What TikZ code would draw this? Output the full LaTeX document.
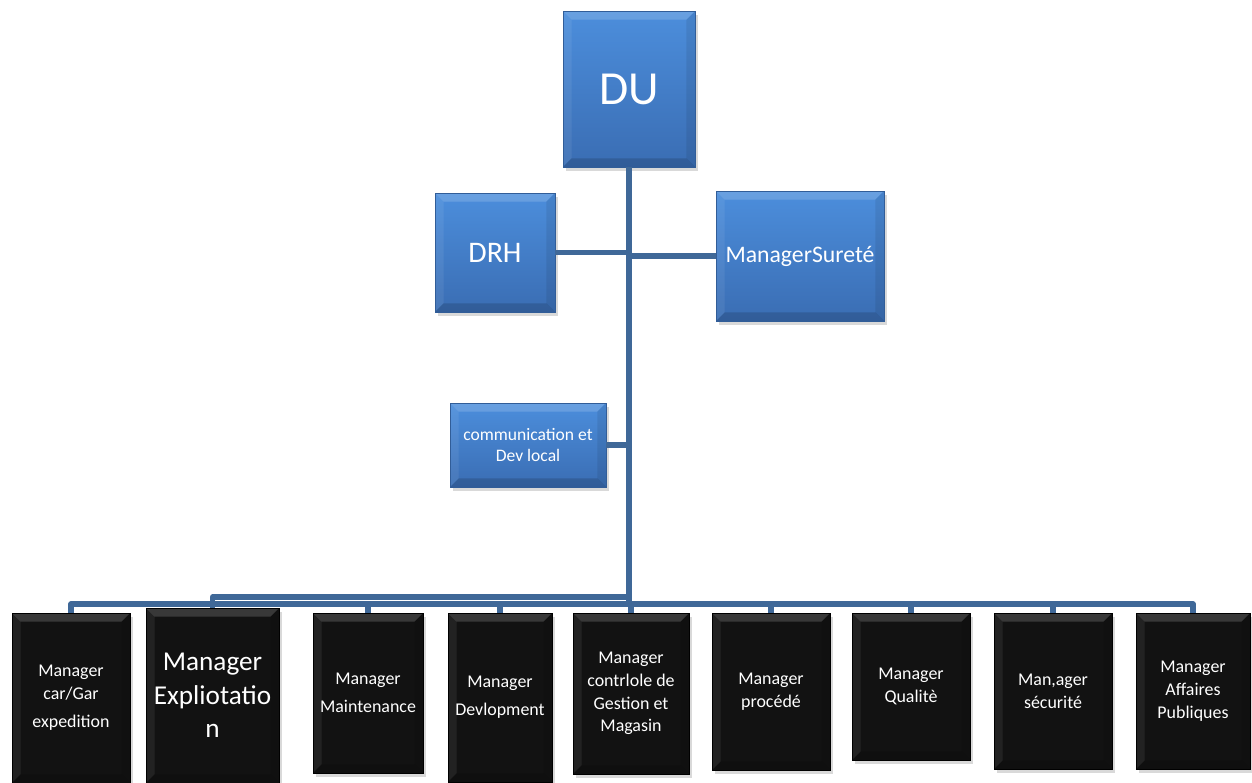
\documentclass[tikz,border=0pt]{standalone}
\usepackage{fontspec}
\setmainfont{Carlito}
\usetikzlibrary{shadows}
\definecolor{btop}{HTML}{4C8EDC}
\definecolor{bbot}{HTML}{3A6DB3}
\definecolor{conn}{HTML}{3F6898}
\definecolor{kbox}{HTML}{121212}
\tikzset{
  bevel/.style={path picture={
    \path (path picture bounding box.north west) coordinate (pNW)
          (path picture bounding box.north east) coordinate (pNE)
          (path picture bounding box.south west) coordinate (pSW)
          (path picture bounding box.south east) coordinate (pSE);
    \fill[white,opacity=#1] (pNW) -- (pNE) -- ([shift={(-0.17cm,-0.17cm)}]pNE) -- ([shift={(0.17cm,-0.17cm)}]pNW) -- cycle;
    \fill[white,opacity=#1*0.45] (pNW) -- (pSW) -- ([shift={(0.17cm,0.17cm)}]pSW) -- ([shift={(0.17cm,-0.17cm)}]pNW) -- cycle;
    \fill[black,opacity=0.08] (pNE) -- (pSE) -- ([shift={(-0.17cm,0.17cm)}]pSE) -- ([shift={(-0.17cm,-0.17cm)}]pNE) -- cycle;
    \fill[black,opacity=0.15] (pSW) -- (pSE) -- ([shift={(-0.17cm,0.17cm)}]pSE) -- ([shift={(0.17cm,0.17cm)}]pSW) -- cycle;
  }},
  bluebox/.style={rectangle, top color=btop, bottom color=bbot, draw=bbot!85!black, line width=0.3pt,
    text=white, align=center, inner sep=1pt, bevel=0.16,
    drop shadow={shadow xshift=1.5pt, shadow yshift=-2.5pt, opacity=0.3}},
  blackbox/.style={rectangle, fill=kbox, draw=black, line width=0.3pt,
    text=white, align=center, inner sep=1pt, bevel=0.16, font=\fontsize{10.2pt}{13pt}\selectfont,
    drop shadow={shadow xshift=1.5pt, shadow yshift=-2.5pt, opacity=0.3}},
  link/.style={draw=conn, line width=2.9pt}
}
\begin{document}
\begin{tikzpicture}[x=0.02cm, y=-0.02cm]
\useasboundingbox (0,0) rectangle (1252,783);
% top boxes
\node[bluebox, minimum width=2.64cm, minimum height=3.12cm, font=\fontsize{27pt}{30pt}\selectfont] (DU) at (629,89) {DU};
\node[bluebox, minimum width=2.40cm, minimum height=2.38cm, font=\fontsize{17pt}{20pt}\selectfont] (DRH) at (495,252.5) {DRH};
\node[bluebox, minimum width=3.36cm, minimum height=2.60cm, font=\fontsize{13.5pt}{16pt}\selectfont] (SUR) at (800,256) {ManagerSureté};
\node[bluebox, minimum width=3.12cm, minimum height=1.68cm, font=\fontsize{10pt}{12pt}\selectfont] (COM) at (528,445) {communication et\\Dev local};
% bottom boxes
\node[blackbox, minimum width=2.36cm, minimum height=3.40cm] (B1) at (71,698) {Manager\\car/Gar\\[3pt]expedition};
\node[blackbox, minimum width=2.66cm, minimum height=3.50cm, font=\fontsize{15.5pt}{19pt}\selectfont] (B2) at (212.5,695.5) {Manager\\Expliotatio\\n};
\node[blackbox, minimum width=2.20cm, minimum height=3.20cm] (B3) at (368,693) {Manager\\[3pt]Maintenance};
\node[blackbox, minimum width=2.08cm, minimum height=3.38cm] (B4) at (500,697.5) {Manager\\[3pt]Devlopment};
\node[blackbox, minimum width=2.32cm, minimum height=3.22cm] (B5) at (631,693.5) {Manager\\contrlole de\\Gestion et\\Magasin};
\node[blackbox, minimum width=2.36cm, minimum height=3.14cm] (B6) at (771,691.5) {Manager\\procédé};
\node[blackbox, minimum width=2.36cm, minimum height=2.94cm] (B7) at (911,686.5) {Manager\\Qualitè};
\node[blackbox, minimum width=2.36cm, minimum height=3.12cm] (B8) at (1053,691) {Man,ager\\sécurité};
\node[blackbox, minimum width=2.28cm, minimum height=3.12cm] (B9) at (1193,691) {Manager\\Affaires\\Publiques};
% connectors
\coordinate (busL) at (71,604);
\coordinate (busR) at (1193,604);
\coordinate (jEx) at (629,597);
\draw[link] (DU.south) -- (DU.south |- busL);
\draw[link] (DRH.east) -- (DRH.east -| DU.south);
\draw[link] (SUR.west) -- (SUR.west -| DU.south);
\draw[link] (COM.east) -- (COM.east -| DU.south);
\draw[link, line join=round] (B1.north) -- (busL) -- (busR) -- (B9.north);
\draw[link, line join=round] (jEx) -| (B2.north);
\foreach \b in {B3,B4,B5,B6,B7,B8} {\draw[link] (\b.north) -- (\b.north |- busL);}
\end{tikzpicture}
\end{document}
